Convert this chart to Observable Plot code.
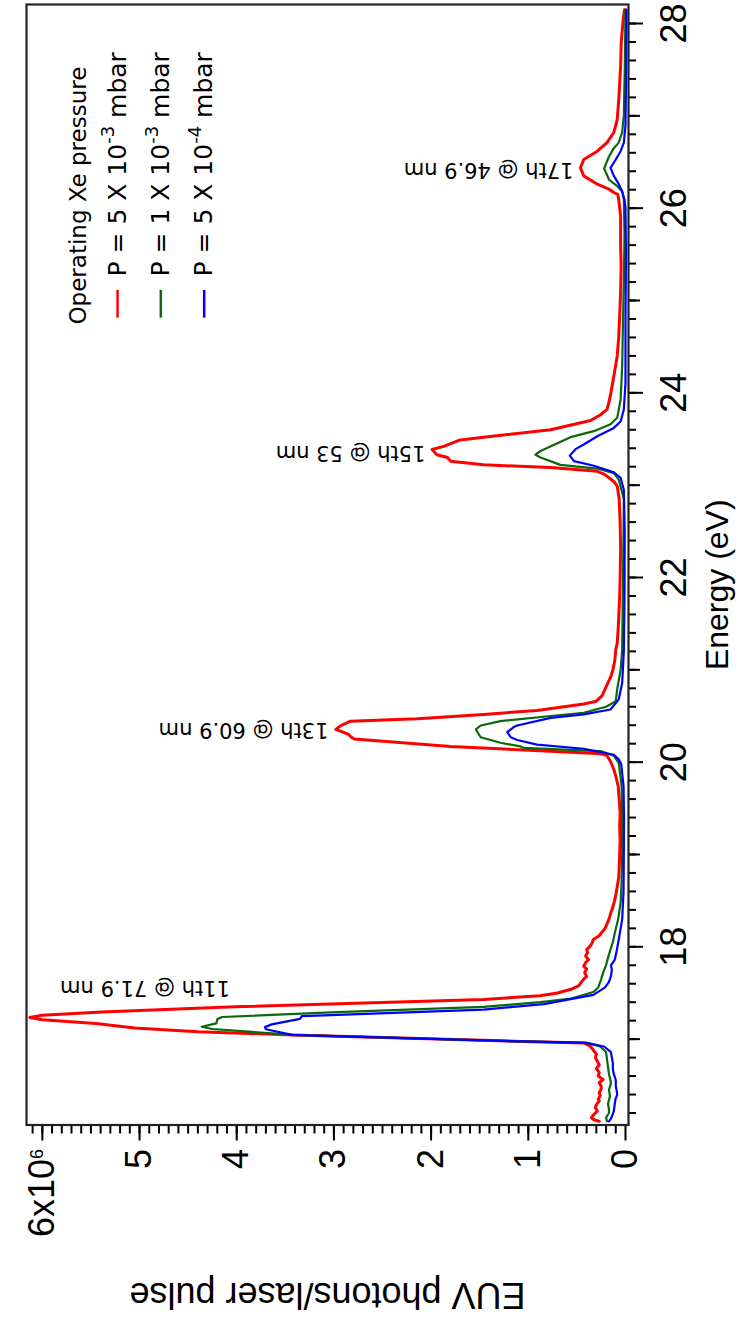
<!DOCTYPE html>
<html>
<head>
<meta charset="utf-8">
<script src="https://cdn.jsdelivr.net/npm/d3@7"></script>
<script src="https://cdn.jsdelivr.net/npm/@observablehq/plot@0.6"></script>
<style>
  html, body { margin: 0; padding: 0; background: #fff; overflow: hidden; }
  #wrap { position: absolute; left: 0; top: 0; width: 1323px; height: 743px;
          transform-origin: 0 0; transform: translate(0px, 1323px) rotate(-90deg); }
</style>
</head>
<body>
<div id="wrap"></div>
<script>
// ---- Data (energy in eV, signal in units of 10^6 EUV photons / laser pulse) ----
const redE = [16.11,16.13,16.15,16.18,16.22,16.26,16.29,16.33,16.35,16.39,16.42,16.46,16.49,16.53,16.56,16.60,16.64,16.68,16.72,16.76,16.80,16.84,16.88,16.92,16.957,16.975,17.046,17.08,17.12,17.17,17.21,17.235,17.26,17.294,17.35,17.43,17.47,17.50,17.54,17.58,17.61,17.65,17.68,17.72,17.76,17.79,17.83,17.86,17.90,17.94,17.97,18.01,18.05,18.08,18.12,18.16,18.20,18.25,18.30,18.37,18.43,18.49,18.56,18.65,18.75,18.85,19.0,19.15,19.3,19.45,19.6,19.74,19.85,19.92,20.01,20.07,20.085,20.094,20.17,20.25,20.27,20.30,20.33,20.354,20.38,20.41,20.444,20.47,20.517,20.56,20.63,20.66,20.72,20.79,20.86,20.93,21.0,21.1,21.22,21.29,21.45,21.58,21.8,22.0,22.3,22.6,22.85,22.99,23.04,23.12,23.15,23.19,23.22,23.26,23.30,23.33,23.387,23.42,23.49,23.52,23.60,23.70,23.76,23.82,23.9,24.0,24.18,24.40,24.6,24.83,25.1,25.37,25.6,25.91,26.09,26.15,26.17,26.20,26.26,26.35,26.437,26.527,26.617,26.71,26.82,26.96,27.18,27.54,27.79,28.04,28.15];
const redV = [0.27,0.33,0.35,0.33,0.29,0.31,0.30,0.27,0.28,0.26,0.27,0.25,0.25,0.27,0.23,0.28,0.27,0.30,0.27,0.29,0.31,0.30,0.33,0.36,0.42,1.07,3.43,4.4,5.05,5.45,6.0,6.13,6.0,5.39,4.02,1.46,0.88,0.70,0.56,0.48,0.46,0.43,0.40,0.42,0.40,0.43,0.41,0.38,0.41,0.39,0.40,0.36,0.34,0.33,0.27,0.24,0.21,0.19,0.17,0.15,0.13,0.115,0.10,0.085,0.07,0.065,0.06,0.055,0.06,0.055,0.065,0.075,0.10,0.12,0.155,0.19,0.23,0.29,1.80,2.79,2.82,2.85,2.92,2.98,2.95,2.90,2.83,2.14,1.46,0.91,0.43,0.30,0.24,0.21,0.18,0.15,0.13,0.11,0.10,0.085,0.075,0.069,0.06,0.055,0.05,0.055,0.065,0.085,0.12,0.22,0.29,0.77,1.46,1.80,1.83,1.94,1.99,1.87,1.70,1.46,0.77,0.36,0.26,0.19,0.17,0.15,0.12,0.085,0.07,0.06,0.05,0.045,0.05,0.05,0.069,0.08,0.12,0.16,0.29,0.43,0.463,0.43,0.29,0.19,0.12,0.085,0.069,0.05,0.044,0.024,0.01];

const greenE = [16.11,16.15,16.20,16.24,16.30,16.38,16.45,16.52,16.56,16.62,16.70,16.78,16.86,16.92,16.96,16.975,17.046,17.11,17.134,17.17,17.215,17.24,17.29,17.35,17.40,17.44,17.51,17.56,17.65,17.72,17.80,17.88,17.95,18.05,18.15,18.3,18.48,18.7,19.02,19.4,19.74,19.99,20.07,20.12,20.155,20.17,20.21,20.27,20.354,20.397,20.444,20.50,20.535,20.6,20.66,20.79,21.0,21.22,21.6,22.0,22.5,22.85,23.06,23.13,23.18,23.22,23.30,23.33,23.37,23.52,23.585,23.66,23.73,23.93,24.29,24.8,25.3,25.73,26.09,26.18,26.24,26.31,26.43,26.56,26.65,26.71,26.82,27.0,27.54,28.15];
const greenV = [0.19,0.20,0.17,0.17,0.18,0.16,0.17,0.15,0.155,0.17,0.18,0.19,0.20,0.26,0.40,1.07,3.43,4.25,4.36,4.21,4.20,4.15,3.03,1.46,0.875,0.56,0.33,0.28,0.25,0.23,0.20,0.18,0.16,0.13,0.11,0.075,0.05,0.04,0.034,0.035,0.04,0.069,0.12,0.257,1.05,1.08,1.286,1.49,1.54,1.49,1.286,0.77,0.43,0.2,0.10,0.085,0.05,0.034,0.03,0.025,0.02,0.017,0.069,0.12,0.29,0.67,0.874,0.926,0.874,0.566,0.326,0.154,0.085,0.05,0.034,0.025,0.015,0.01,0.017,0.034,0.085,0.17,0.22,0.17,0.12,0.069,0.034,0.017,0.007,0.0];

const blueE = [16.11,16.14,16.17,16.22,16.30,16.35,16.40,16.44,16.49,16.56,16.62,16.68,16.74,16.80,16.86,16.92,16.96,16.975,17.046,17.107,17.13,17.16,17.22,17.25,17.26,17.32,17.38,17.48,17.56,17.62,17.68,17.75,17.80,17.86,17.96,18.08,18.3,18.6,19.02,19.4,19.74,19.98,20.03,20.08,20.145,20.19,20.24,20.27,20.325,20.38,20.397,20.48,20.517,20.57,20.68,20.86,21.2,21.8,22.5,22.95,23.08,23.14,23.21,23.26,23.32,23.39,23.44,23.53,23.62,23.69,23.82,24.11,24.8,25.5,26.0,26.09,26.18,26.26,26.35,26.437,26.527,26.617,26.71,26.9,27.54,28.15];
const blueV = [0.17,0.15,0.137,0.12,0.11,0.103,0.085,0.09,0.10,0.10,0.12,0.13,0.13,0.14,0.15,0.22,0.40,1.07,3.43,3.70,3.71,3.64,3.35,3.33,3.03,1.46,0.84,0.33,0.21,0.17,0.15,0.14,0.15,0.11,0.09,0.069,0.034,0.02,0.017,0.015,0.02,0.044,0.069,0.12,0.43,0.91,1.114,1.18,1.217,1.15,1.114,0.77,0.43,0.154,0.069,0.034,0.017,0.01,0.008,0.017,0.05,0.12,0.326,0.53,0.573,0.514,0.43,0.29,0.12,0.05,0.017,0.0,0.0,-0.005,0.0,0.01,0.034,0.069,0.12,0.154,0.10,0.05,0.017,0.0,-0.007,-0.01];

// Series / legend
const seriesNames = ["P = 5 X 10^{-3} mbar", "P = 1 X 10^{-3} mbar", "P = 5 X 10^{-4} mbar"];
const seriesColors = ["#ff0000", "#0a690a", "#0000ff"];
const legendTitle = "Operating Xe pressure";

// Harmonic annotations
const annLabels = ["11th @ 71.9 nm", "13th @ 60.9 nm", "15th @ 53 nm", "17th @ 46.9 nm"];
const annE = [17.553, 20.353, 23.35, 26.42];
const annV = [4.07, 3.056, 2.058, 0.535];

// Axis ticks
const energyLabelTicks = [18, 20, 22, 24, 26, 28];
const energyMidTicks = [17, 19, 21, 23, 25, 27];
const valueLabelTicks = [0, 1, 2, 3, 4, 5, 6];
const valueTickLabels = ["0", "1", "2", "3", "4", "5", "6x10^{6}"];

// ---- Build tables ----
const toRows = (E, V, s) => E.map((e, i) => ({E: e, V: V[i], s}));
const red = toRows(redE, redV, 0);
const green = toRows(greenE, greenV, 1);
const blue = toRows(blueE, blueV, 2);
const ann = annLabels.map((t, i) => ({t, E: annE[i], V: annV[i]}));
const minorE = d3.range(1620, 2820, 20).map(v => v / 100);
const minorV = d3.range(1, 62).map(v => v / 10);

// legend placement (in data units)
const legE0 = 24.82, legE1 = 25.12, legText = 25.26, legTitleE = 24.74;
const legV = [5.226, 4.781, 4.335], legTitleV = 5.624;
const legRows = seriesNames.map((n, i) => ({n, c: seriesColors[i], V: legV[i]}));

const sans = "'Liberation Sans', Arial, Helvetica, sans-serif";
const dv = "'DejaVu Sans', sans-serif";

const chart = Plot.plot({
  width: 1323, height: 743,
  marginLeft: 197.5, marginRight: 5, marginTop: 26, marginBottom: 115,
  style: {fontFamily: sans, fontSize: "36px", background: "white", color: "#000"},
  x: {domain: [16.07, 28.206], label: null},
  y: {domain: [-0.031, 6.163], label: null},
  color: {type: "identity"},
  marks: [
    Plot.axisX({ticks: minorE, tickSize: 8, tickFormat: () => "", label: null, strokeWidth: 2}),
    Plot.axisX({ticks: energyMidTicks, tickSize: 12, tickFormat: () => "", label: null, strokeWidth: 2}),
    Plot.axisX({ticks: energyLabelTicks, tickSize: 15, tickPadding: 17, tickFormat: d => String(d), label: null, strokeWidth: 2, fontSize: 36}),
    Plot.axisY({ticks: minorV, tickSize: 8, tickFormat: () => "", label: null, strokeWidth: 2}),
    Plot.axisY({ticks: valueLabelTicks, tickSize: 15, tickPadding: 9, tickFormat: d => valueTickLabels[d], label: null, strokeWidth: 2, fontSize: 36}),
    Plot.line(red, {x: "E", y: "V", stroke: seriesColors[0], strokeWidth: 3}),
    Plot.line(green, {x: "E", y: "V", stroke: seriesColors[1], strokeWidth: 2.2}),
    Plot.line(blue, {x: "E", y: "V", stroke: seriesColors[2], strokeWidth: 2.2}),
    Plot.frame({stroke: "#222", strokeWidth: 2.2}),
    Plot.text(ann, {x: "E", y: "V", text: "t", rotate: -90, textAnchor: "start", lineAnchor: "middle", fontFamily: dv, fontSize: 21, fill: "#000"}),
    Plot.text([legendTitle], {x: legTitleE, y: legTitleV, text: d => d, textAnchor: "start", lineAnchor: "middle", fontFamily: dv, fontSize: 23, fill: "#000"}),
    Plot.ruleY(legRows, {y: "V", x1: legE0, x2: legE1, stroke: "c", strokeWidth: 2.5}),
    Plot.text(legRows, {x: legText, y: "V", text: "n", textAnchor: "start", lineAnchor: "middle", fontFamily: dv, fontSize: 25, fill: "#000"}),
    Plot.text(["Energy (eV)"], {frameAnchor: "bottom", text: d => d, textAnchor: "middle", lineAnchor: "top", dy: 77, dx: -20, fontSize: 32, fill: "#000"}),
    Plot.text(["EUV photons/laser pulse"], {frameAnchor: "left", text: d => d, rotate: -90, textAnchor: "middle", lineAnchor: "middle", dx: -170, fontSize: 36, fill: "#000"})
  ]
});

// superscripts: turn "^{...}" into raised tspans
d3.select(chart).selectAll("text").each(function () {
  const el = this;
  const s = el.textContent;
  if (!s.includes("^{")) return;
  const fs = parseFloat(getComputedStyle(el).fontSize) || 25;
  const parts = s.split(/(\^\{[^}]*\})/).filter(p => p.length);
  while (el.firstChild) el.removeChild(el.firstChild);
  let shifted = false;
  parts.forEach(p => {
    const m = p.match(/^\^\{([^}]*)\}$/);
    const ts = document.createElementNS("http://www.w3.org/2000/svg", "tspan");
    if (m) {
      ts.textContent = m[1];
      ts.setAttribute("font-size", (fs * 0.72).toFixed(1) + "px");
      ts.setAttribute("dy", (-fs * 0.45).toFixed(1));
      shifted = true;
    } else {
      ts.textContent = p;
      if (shifted) { ts.setAttribute("dy", (fs * 0.45).toFixed(1)); shifted = false; }
    }
    el.appendChild(ts);
  });
});

document.getElementById("wrap").appendChild(chart);
</script>
</body>
</html>
